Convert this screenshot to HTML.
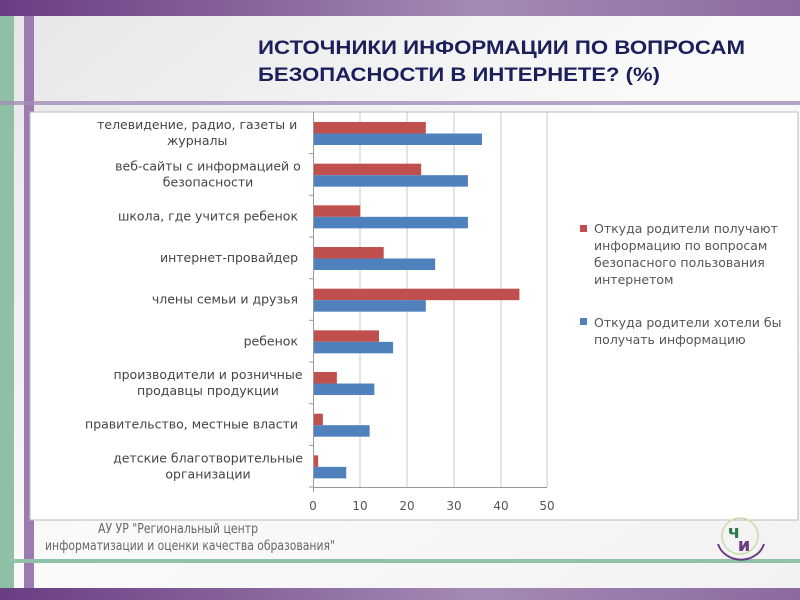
<!DOCTYPE html>
<html><head><meta charset="utf-8"><style>
html,body{margin:0;padding:0;width:800px;height:600px;overflow:hidden;background:#f4f4f4}
text{font-family:"DejaVu Sans","Liberation Sans",sans-serif}
</style></head><body>
<svg width="800" height="600" xmlns="http://www.w3.org/2000/svg">
<defs>
<linearGradient id="pb" x1="0" x2="1"><stop offset="0" stop-color="#6a3d82"/><stop offset="0.6" stop-color="#a38ab5"/><stop offset="1" stop-color="#8c6aa0"/></linearGradient>
<linearGradient id="bg" x1="0" x2="1" y1="0" y2="1"><stop offset="0" stop-color="#e6e6e6"/><stop offset="0.5" stop-color="#fafafa"/><stop offset="1" stop-color="#f2f2f2"/></linearGradient>
</defs>
<rect width="800" height="600" fill="url(#bg)"/>
<rect x="0" y="0" width="800" height="16" fill="url(#pb)"/>
<rect x="0" y="588" width="800" height="12" fill="url(#pb)"/>
<rect x="0" y="16" width="14" height="572" fill="#8fbfa4"/>
<rect x="24" y="16" width="10" height="572" fill="#9c7cb0"/>
<rect x="0" y="101" width="800" height="4" fill="#a58cb8" opacity="0.8"/>
<rect x="0" y="559" width="800" height="4" fill="#8fc2a8"/>
<text x="258" y="54" font-weight="bold" font-size="19" fill="#1b1f5a" textLength="487" lengthAdjust="spacingAndGlyphs" style="font-family:'Liberation Sans',sans-serif">ИСТОЧНИКИ ИНФОРМАЦИИ ПО ВОПРОСАМ</text>
<text x="258" y="81" font-weight="bold" font-size="19" fill="#1b1f5a" textLength="402" lengthAdjust="spacingAndGlyphs" style="font-family:'Liberation Sans',sans-serif">БЕЗОПАСНОСТИ В ИНТЕРНЕТЕ? (%)</text>
<rect x="30" y="112" width="768" height="408" fill="#fff" stroke="#bbb"/>
<g stroke="#c8c8c8" stroke-width="1">
<line x1="360" y1="112" x2="360" y2="487"/><line x1="407" y1="112" x2="407" y2="487"/>
<line x1="454" y1="112" x2="454" y2="487"/><line x1="501" y1="112" x2="501" y2="487"/>
<line x1="547" y1="112" x2="547" y2="487"/>
</g>
<g id="bars"></g>
<g stroke="#999" stroke-width="1">
<line x1="313.5" y1="112" x2="313.5" y2="492"/><line x1="313" y1="487.5" x2="547" y2="487.5"/>
</g>
<g fill="#555" font-size="12" text-anchor="middle">
<text x="313" y="510">0</text><text x="360" y="510">10</text><text x="407" y="510">20</text><text x="454" y="510">30</text><text x="501" y="510">40</text><text x="547" y="510">50</text>
</g>
<g fill="#444" font-size="12.5" id="labels"></g>
<rect x="580" y="225" width="7" height="7" fill="#c0504d"/>
<rect x="580" y="318" width="7" height="7" fill="#4f81bd"/>
<g fill="#555" font-size="12.5">
<text x="594" y="233">Откуда родители получают</text>
<text x="594" y="250">информацию по вопросам</text>
<text x="594" y="267">безопасного пользования</text>
<text x="594" y="284">интернетом</text>
<text x="594" y="327">Откуда родители хотели бы</text>
<text x="594" y="344">получать информацию</text>
</g>
<g fill="#666" font-size="13" style="font-family:'Liberation Sans',sans-serif">
<text x="98" y="533" textLength="160" lengthAdjust="spacingAndGlyphs">АУ УР "Региональный центр</text>
<text x="45" y="550" textLength="290" lengthAdjust="spacingAndGlyphs">информатизации и  оценки качества образования"</text>
</g>
<g transform="translate(740,536)">
<path d="M-22,8 A24,22 0 0 0 24,8" fill="none" stroke="#6a3d82" stroke-width="2"/>
<circle cx="0" cy="0" r="18" fill="none" stroke="#c8dca8" stroke-width="1.5"/>
<text x="-6" y="2" font-size="18" font-weight="bold" fill="#2e7a4f" text-anchor="middle">ч</text>
<text x="4" y="15" font-size="18" font-weight="bold" fill="#6a3d82" text-anchor="middle">и</text>
</g>
</svg>
<script>
var red=[24,23,10,15,44,14,5,2,1],blue=[36,33,33,26,24,17,13,12,7];
var labs=[["телевидение, радио, газеты и","журналы"],["веб-сайты с информацией о","безопасности"],["школа, где учится ребенок"],["интернет-провайдер"],["члены семьи и друзья"],["ребенок"],["производители и розничные","продавцы продукции"],["правительство, местные власти"],["детские благотворительные","организации"]];
var ns="http://www.w3.org/2000/svg",b=document.getElementById("bars"),L=document.getElementById("labels");
function r(v,y,c){var e=document.createElementNS(ns,"rect");e.setAttribute("x",313.5);e.setAttribute("y",y);e.setAttribute("width",v*4.68);e.setAttribute("height",11.5);e.setAttribute("fill",c);b.appendChild(e);}
for(var i=0;i<9;i++){var y0=112+i*41.67;
r(red[i],y0+10,"#c0504d");r(blue[i],y0+21.5,"#4f81bd");
var t=document.createElementNS(ns,"line");t.setAttribute("x1",309);t.setAttribute("x2",313);t.setAttribute("y1",y0+41.67);t.setAttribute("y2",y0+41.67);t.setAttribute("stroke","#999");b.appendChild(t);
var l=labs[i],cy=y0+21+4;
for(var j=0;j<l.length;j++){var tx=document.createElementNS(ns,"text");
if(l.length>1){tx.setAttribute("text-anchor","middle");tx.setAttribute("x",298-l[0].length*3.6);}
else{tx.setAttribute("text-anchor","end");tx.setAttribute("x",298);}
tx.setAttribute("y",cy+(j-(l.length-1)/2)*16);tx.textContent=l[j];L.appendChild(tx);}}
</script>
</body></html>
